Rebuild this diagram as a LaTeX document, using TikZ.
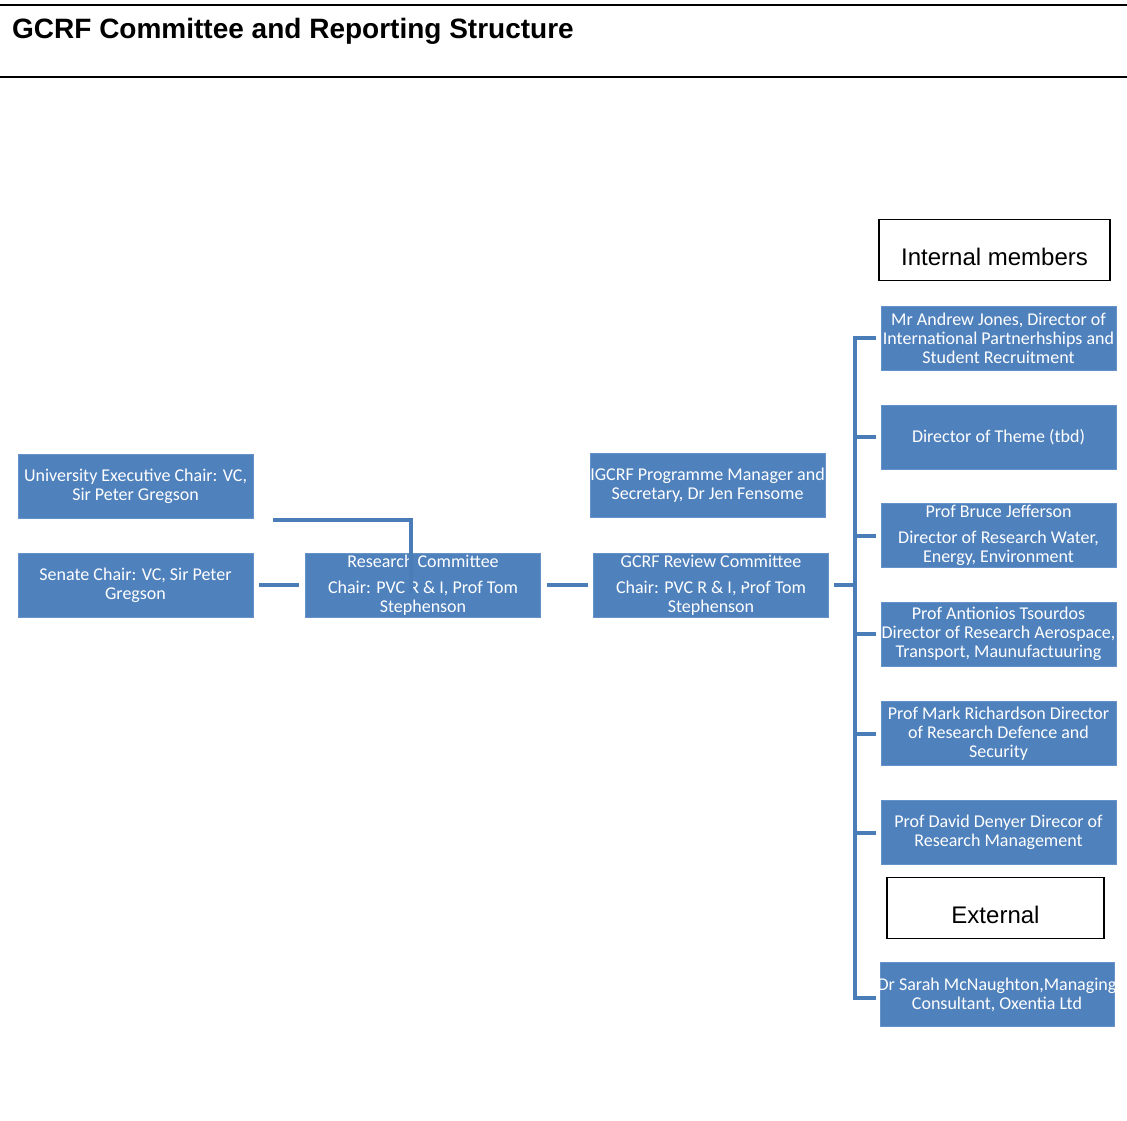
\documentclass[tikz,border=0pt]{standalone}
\usepackage{fontspec}
\setmainfont{Liberation Sans}
\newfontfamily\boxfont{Carlito}
\usepackage{xcolor}
\usepackage{tikz}
\definecolor{boxblue}{HTML}{4F81BD}
\definecolor{boxedge}{HTML}{6592C8}
\definecolor{linkblue}{HTML}{4A7CB8}

\begin{document}
\begin{tikzpicture}[x=1pt,y=-1pt,
    member/.style={rectangle,fill=boxblue,draw=boxedge,line width=0.6pt,
      minimum width=235pt,minimum height=64pt,inner sep=0pt,align=center,
      text=white,font=\boxfont\fontsize{18}{19}\selectfont},
    heading/.style={rectangle,draw=black,line width=1.6pt,minimum height=61pt,
      inner sep=0pt,text height=30pt,text depth=0pt,font=\fontsize{24}{28}\selectfont},
    link/.style={draw=linkblue,line width=4pt},
    cover/.style={draw=boxblue,line width=5pt}]
  \useasboundingbox (0,0) rectangle (1127,1120);
  % title band
  \draw[line width=2pt] (0,5) -- (1127,5);
  \draw[line width=2pt] (0,77) -- (1127,77);
  \node[anchor=base west,inner sep=0pt,font=\bfseries\fontsize{28}{32}\selectfont] (title) at (12,38)
    {GCRF Committee and Reporting Structure};
  % committees
  \node[member] (uniexec) at (135.5,486) {University Executive Chair: VC,\\ Sir Peter Gregson};
  \node[member] (senate) at (135.5,585) {Senate Chair: VC, Sir Peter\\ Gregson};
  \node[member] (research) at (423,585) {Research Committee\\[7pt] Chair: PVC R \& I, Prof Tom\\ Stephenson};
  \node[member] (manager) at (707.5,485.5) {IGCRF Programme Manager and\\ Secretary, Dr Jen Fensome};
  \node[member] (review) at (711,585) {GCRF Review Committee\\[7pt] Chair: PVC R \& I, Prof Tom\\ Stephenson};
  % members
  \node[heading,minimum width=231pt] (internal) at (994.5,250) {Internal members};
  \node[member] (jones) at (998.5,338) {Mr Andrew Jones, Director of\\ International Partnerhships and\\ Student Recruitment};
  \node[member] (theme) at (998.5,437) {Director of Theme (tbd)};
  \node[member] (jefferson) at (998.5,535.5) {Prof Bruce Jefferson\\[7pt] Director of Research Water,\\ Energy, Environment};
  \node[member] (tsourdos) at (998.5,634) {Prof Antionios Tsourdos\\ \makebox[230pt]{Director of Research Aerospace,}\\ Transport, Maunufactuuring};
  \node[member] (richardson) at (998.5,733.5) {Prof Mark Richardson Director\\ of Research Defence and\\ Security};
  \node[member] (denyer) at (998.5,832.5) {Prof David Denyer Direcor of\\ Research Management};
  \node[heading,minimum width=217pt] (external) at (995.5,908) {External};
  \node[member,minimum width=234pt] (mcnaughton) at (997,994.5) {\makebox[228pt]{Dr Sarah McNaughton,Managing}\\ Consultant, Oxentia Ltd};
  % connectors
  \coordinate (elbow) at (411,520);
  \coordinate (bustop) at (855,338);
  \coordinate (busbot) at (855,998);
  \draw[link] ([xshift=6pt]senate.east) -- ([xshift=-6pt]research.west);
  \draw[link] ([xshift=6pt]research.east) -- ([xshift=-5pt]review.west);
  \draw[link] ([xshift=-138pt]elbow) -- (elbow) -- ([yshift=-8pt]elbow |- research.center);
  \draw[cover] ([xshift=30pt,yshift=19pt]review.center) -- ([xshift=30pt]review.center);
  \draw[link] ([xshift=5pt]review.east) -- (bustop |- review.east);
  \draw[link] ([xshift=-5pt]jones.west) -- (bustop) -- (busbot) -- ++(21,0);
  \foreach \m in {theme,jefferson,tsourdos,richardson,denyer}
  {
    \draw[link] (bustop |- \m.west) -- ([xshift=-5pt]\m.west);
  }
\end{tikzpicture}
\end{document}
